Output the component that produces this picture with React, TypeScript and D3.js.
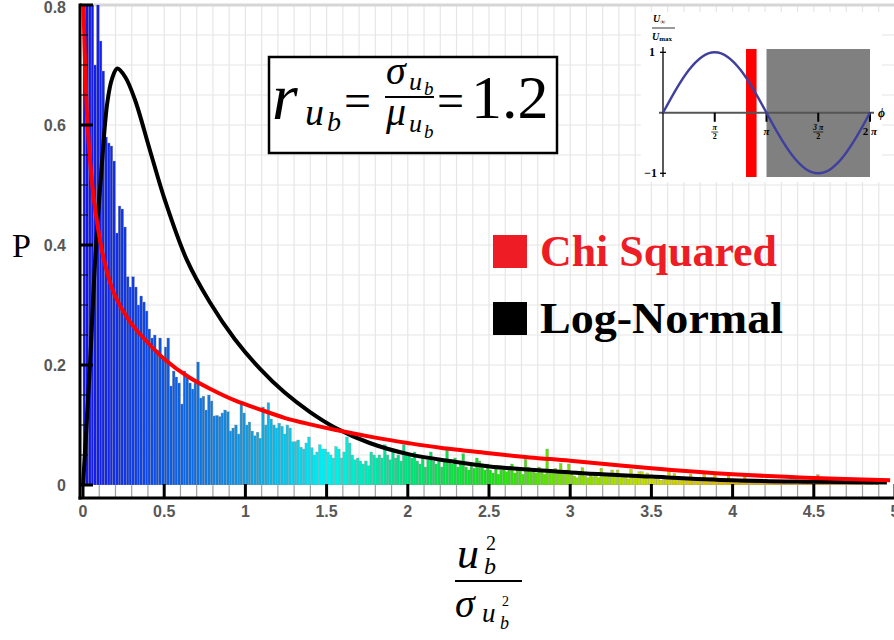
import React from "react";
import * as d3 from "d3";

// ---------- DATA ----------
const binWidth = 1 / 60;
// histogram bin heights, in segments of 0.5 on the x axis (30 bins each)
const bins0to05 = [1.2, 1.0, 0.9, 0.85, 0.7, 0.82, 0.74, 0.69, 0.58, 0.57, 0.565, 0.54, 0.42, 0.465, 0.46, 0.43, 0.347, 0.33, 0.347, 0.33, 0.3, 0.315, 0.305, 0.29, 0.26, 0.245, 0.25, 0.225, 0.245, 0.21];
const bins05to10 = [0.23, 0.245, 0.165, 0.19, 0.18, 0.17, 0.135, 0.19, 0.18, 0.17, 0.16, 0.17, 0.205, 0.145, 0.148, 0.125, 0.15, 0.14, 0.115, 0.116, 0.114, 0.12, 0.125, 0.122, 0.09, 0.095, 0.1, 0.085, 0.135, 0.12];
const bins10to15 = [0.1, 0.105, 0.09, 0.082, 0.088, 0.078, 0.13, 0.1, 0.137, 0.11, 0.1, 0.095, 0.103, 0.098, 0.085, 0.1, 0.095, 0.072, 0.072, 0.075, 0.063, 0.06, 0.07, 0.08, 0.062, 0.05, 0.055, 0.067, 0.06, 0.06];
const bins15to20 = [0.055, 0.05, 0.045, 0.064, 0.06, 0.045, 0.055, 0.08, 0.07, 0.05, 0.042, 0.045, 0.04, 0.035, 0.04, 0.032, 0.055, 0.05, 0.045, 0.05, 0.045, 0.067, 0.05, 0.042, 0.055, 0.045, 0.05, 0.04, 0.067, 0.05];
const bins20to25 = [0.05, 0.045, 0.055, 0.04, 0.035, 0.045, 0.03, 0.042, 0.055, 0.04, 0.035, 0.045, 0.03, 0.04, 0.058, 0.04, 0.035, 0.045, 0.03, 0.038, 0.052, 0.03, 0.025, 0.035, 0.028, 0.045, 0.04, 0.03, 0.025, 0.035];
const bins25to30 = [0.025, 0.02, 0.03, 0.018, 0.025, 0.03, 0.022, 0.028, 0.035, 0.02, 0.03, 0.025, 0.018, 0.043, 0.03, 0.022, 0.025, 0.02, 0.03, 0.025, 0.018, 0.06, 0.025, 0.02, 0.028, 0.022, 0.036, 0.02, 0.025, 0.035];
const bins30to35 = [0.02, 0.015, 0.012, 0.018, 0.029, 0.015, 0.012, 0.018, 0.014, 0.016, 0.012, 0.028, 0.016, 0.014, 0.018, 0.025, 0.02, 0.025, 0.012, 0.014, 0.015, 0.01, 0.026, 0.014, 0.012, 0.022, 0.022, 0.018, 0.02, 0.015];
const bins35to40 = [0.01, 0.014, 0.012, 0.008, 0.015, 0.012, 0.023, 0.01, 0.019, 0.012, 0.008, 0.011, 0.009, 0.012, 0.018, 0.01, 0.008, 0.012, 0.009, 0.018, 0.01, 0.008, 0.012, 0.018, 0.009, 0.007, 0.011, 0.008, 0.015, 0.009];
const bins40to45 = [0.006, 0.004, 0.007, 0.005, 0.014, 0.006, 0.004, 0.007, 0.005, 0.006, 0.004, 0.006, 0.01, 0.005, 0.004, 0.006, 0.003, 0.005, 0.004, 0.006, 0.003, 0.004, 0.005, 0.003, 0.004, 0.006, 0.003, 0.004, 0.003, 0.005];
const bins45to49 = [0.004, 0.017, 0.003, 0.004, 0.002, 0.003, 0.002, 0.004, 0.002, 0.003, 0.002, 0.003, 0.008, 0.002, 0.003, 0.002, 0.002, 0.003, 0.001, 0.002, 0.002, 0.004, 0.001, 0.002];

// fitted curves
const chiX = [0, 0.026, 0.05, 0.08, 0.125, 0.19, 0.29, 0.39, 0.5, 0.65, 0.8, 0.935, 1.1, 1.24, 1.4, 1.55, 1.8, 2.0, 2.2, 2.5, 2.75, 3.0, 3.5, 4.0, 4.5, 4.97];
const chiY = [0.83, 0.61, 0.52, 0.45, 0.38, 0.32, 0.272, 0.24, 0.21, 0.18, 0.158, 0.141, 0.125, 0.112, 0.101, 0.092, 0.079, 0.07, 0.062, 0.053, 0.046, 0.0405, 0.028, 0.018, 0.0117, 0.008];
const lnX = [0, 0.02, 0.043, 0.074, 0.115, 0.15, 0.18, 0.211, 0.26, 0.32, 0.412, 0.504, 0.638, 0.78, 0.935, 1.089, 1.242, 1.396, 1.55, 1.765, 2.01, 2.257, 2.503, 3.0, 3.5, 4.0, 4.5, 4.95];
const lnY = [0, 0.09, 0.2, 0.37, 0.53, 0.638, 0.678, 0.694, 0.68, 0.642, 0.558, 0.475, 0.376, 0.305, 0.243, 0.194, 0.154, 0.122, 0.096, 0.07, 0.051, 0.04, 0.031, 0.021, 0.014, 0.008, 0.0055, 0.004];

const xTicks = [0, 0.5, 1, 1.5, 2, 2.5, 3, 3.5, 4, 4.5, 5];
const xTickLabels = ["0", "0.5", "1", "1.5", "2", "2.5", "3", "3.5", "4", "4.5", "5"];
const yTicks = [0, 0.2, 0.4, 0.6, 0.8];
const yTickLabels = ["0", "0.2", "0.4", "0.6", "0.8"];

const colorStops = [0, 0.5, 1.0, 1.5, 2.0, 2.5, 3.0, 3.5, 4.0, 4.5, 5.0];
const colorValues = ["#1414e8", "#0b55e6", "#1597dc", "#00f0f4", "#00e07c", "#14e014", "#7ee000", "#cce000", "#e0b400", "#d08a30", "#b87040"];

const legendNames = ["Chi Squared", "Log-Normal"];
const legendColors = ["#ee1c25", "#000000"];
const legendLengths = [237, 243];

// inset
const insetPhase = [0, 0.3927, 0.7854, 1.1781, 1.5708, 1.9635, 2.3562, 2.7489, 3.1416, 3.5343, 3.927, 4.3197, 4.7124, 5.1051, 5.4978, 5.8905, 6.2832];
const insetValue = [0, 0.383, 0.707, 0.924, 1, 0.924, 0.707, 0.383, 0, -0.383, -0.707, -0.924, -1, -0.924, -0.707, -0.383, 0];
const insetBandFrom = [2.52, 3.1416];
const insetBandTo = [2.84, 6.2832];
const insetBandColor = ["#ff0000", "#808080"];

export default function App() {
  const W = 894, H = 640;
  const x = d3.scaleLinear().domain([0, 5]).range([83, 895]);
  const y = d3.scaleLinear().domain([0, 0.8]).range([485, 5]);
  const color = d3.scaleLinear<string>().domain(colorStops).range(colorValues).interpolate(d3.interpolateRgb);

  const bins = [
    ...bins0to05, ...bins05to10, ...bins10to15, ...bins15to20, ...bins20to25,
    ...bins25to30, ...bins30to35, ...bins35to40, ...bins40to45, ...bins45to49,
  ];
  const bw = x(binWidth) - x(0);

  const line = d3.line<[number, number]>().x(d => x(d[0])).y(d => y(d[1])).curve(d3.curveCatmullRom.alpha(0.5));
  const chiPath = line(chiX.map((v, i) => [v, chiY[i]]) as [number, number][]) || "";
  const lnPath = line(lnX.map((v, i) => [v, lnY[i]]) as [number, number][]) || "";

  const vGrid = d3.range(1, 50).map(k => k / 10);
  const hGrid = d3.range(1, 16).map(k => k * 0.05);
  const yMinor = d3.range(1, 16).map(k => k * 0.05).filter(v => Math.abs(v / 0.2 - Math.round(v / 0.2)) > 1e-6);
  const xMinor = d3.range(1, 50).map(k => k / 10).filter(v => Math.abs(v * 2 - Math.round(v * 2)) > 1e-6);

  // inset scales
  const px = d3.scaleLinear().domain([0, 2 * Math.PI]).range([663, 870]);
  const py = d3.scaleLinear().domain([-1, 1]).range([173.3, 52.3]);
  const sineLine = d3.line<[number, number]>().x(d => px(d[0])).y(d => py(d[1])).curve(d3.curveNatural);
  const sinePath = sineLine(insetPhase.map((p, i) => [p, insetValue[i]]) as [number, number][]) || "";

  const serif = "'Liberation Serif', 'Times New Roman', serif";
  const sans = "'Liberation Sans', Arial, sans-serif";

  return (
    <svg width={W} height={H} style={{ position: "absolute", left: 0, top: 0, background: "#fff" }} xmlns="http://www.w3.org/2000/svg">
      <defs>
        <clipPath id="plotClip">
          <rect x={80} y={5} width={W - 80} height={480} />
        </clipPath>
      </defs>
      <rect x={0} y={0} width={W} height={H} fill="#fff" />

      {/* grid */}
      {vGrid.map(v => (
        <line key={"vg" + v} x1={x(v)} x2={x(v)} y1={5} y2={485} stroke="#e6e6e6" strokeWidth={1.2} />
      ))}
      {hGrid.map(v => (
        <line key={"hg" + v} x1={80} x2={W} y1={y(v)} y2={y(v)} stroke="#e6e6e6" strokeWidth={1.2} />
      ))}
      <line x1={80} x2={W} y1={5} y2={5} stroke="#d6d6d6" strokeWidth={3} />

      {/* bars */}
      <g clipPath="url(#plotClip)">
        {bins.map((v, i) => (
          <rect key={"b" + i} x={x(i * binWidth)} y={y(v)} width={bw} height={y(0) - y(v)}
            fill={color((i + 0.5) * binWidth)} stroke="#9a9a9a" strokeWidth={0.35} />
        ))}
        <path d={lnPath} fill="none" stroke="#000" strokeWidth={4} strokeLinejoin="round" />
        <path d={chiPath} fill="none" stroke="#ff0000" strokeWidth={4} strokeLinejoin="round" />
      </g>

      {/* x axis */}
      {xMinor.map(v => (
        <line key={"xm" + v} x1={x(v)} x2={x(v)} y1={485} y2={498} stroke="#a0a0a0" strokeWidth={1.2} />
      ))}
      {xTicks.map(v => (
        <line key={"xt" + v} x1={x(v)} x2={x(v)} y1={484} y2={498} stroke="#000" strokeWidth={3} />
      ))}
      <line x1={78.5} x2={W} y1={498} y2={498} stroke="#000" strokeWidth={3} />
      {xTicks.map((v, i) => (
        <text key={"xl" + v} x={x(v)} y={517} textAnchor="middle" fontFamily={sans} fontWeight="bold" fontSize={16} fill="#575757">{xTickLabels[i]}</text>
      ))}

      {/* y axis */}
      <line x1={80} x2={80} y1={3.5} y2={499.5} stroke="#000" strokeWidth={3} />
      {yMinor.map(v => (
        <line key={"ym" + v} x1={80} x2={88} y1={y(v)} y2={y(v)} stroke="#000" strokeWidth={1} />
      ))}
      {yTicks.map(v => (
        <line key={"yt" + v} x1={80} x2={93} y1={y(v)} y2={y(v)} stroke="#000" strokeWidth={3} />
      ))}
      {yTicks.map((v, i) => (
        <text key={"yl" + v} x={66} y={Math.max(y(v) + 6, 13)} textAnchor="end" fontFamily={sans} fontWeight="bold" fontSize={16} fill="#575757">{yTickLabels[i]}</text>
      ))}

      {/* axis titles */}
      <text x={12} y={257} fontFamily={serif} fontSize={34} fill="#000">P</text>
      <g fontFamily={serif} fill="#000">
        <text x={457} y={568} fontSize={44} fontStyle="italic">u</text>
        <text x={486} y={550} fontSize={20}>2</text>
        <text x={484} y={574} fontSize={24} fontStyle="italic">b</text>
        <line x1={455} x2={522} y1={581} y2={581} stroke="#000" strokeWidth={2} />
        <text x={455} y={617} fontSize={40} fontStyle="italic">σ</text>
        <text x={482} y={622} fontSize={27} fontStyle="italic">u</text>
        <text x={500} y={629} fontSize={18} fontStyle="italic">b</text>
        <text x={502} y={606} fontSize={14}>2</text>
      </g>

      {/* formula box */}
      <rect x={269} y={57} width={288} height={96} fill="#fff" stroke="#000" strokeWidth={2.5} />
      <g fontFamily={serif} fill="#000">
        <text x={272} y={119} fontSize={66} fontStyle="italic">r</text>
        <text x={305} y={125} fontSize={38} fontStyle="italic">u</text>
        <text x={327} y={131} fontSize={28} fontStyle="italic">b</text>
        <text x={344} y={117} fontSize={48}>=</text>
        <text x={386} y={84} fontSize={40} fontStyle="italic">σ</text>
        <text x={409} y={90} fontSize={26} fontStyle="italic">u</text>
        <text x={424} y={95} fontSize={19} fontStyle="italic">b</text>
        <line x1={385} x2={434} y1={97} y2={97} stroke="#000" strokeWidth={1.8} />
        <text x={386} y={125} fontSize={40} fontStyle="italic">μ</text>
        <text x={409} y={132} fontSize={26} fontStyle="italic">u</text>
        <text x={424} y={138} fontSize={19} fontStyle="italic">b</text>
        <text x={437} y={117} fontSize={48}>=</text>
        <text x={471} y={118} fontSize={62}>1.2</text>
      </g>

      {/* legend */}
      {legendNames.map((n, i) => (
        <g key={n}>
          <rect x={493} y={235 + i * 67} width={34} height={33} fill={legendColors[i]} />
          <text x={540} y={266 + i * 67} fontFamily={serif} fontWeight="bold" fontSize={44} fill={legendColors[i]}
            textLength={legendLengths[i]} lengthAdjust="spacingAndGlyphs">{n}</text>
        </g>
      ))}

      {/* inset */}
      <rect x={641} y={12} width={241} height={170} fill="#fff" />
      {insetBandFrom.map((f, i) => (
        <rect key={"band" + i} x={px(f)} y={49} width={px(insetBandTo[i]) - px(f)} height={128} fill={insetBandColor[i]} />
      ))}
      <line x1={659} x2={874} y1={py(0)} y2={py(0)} stroke="#555" strokeWidth={2} />
      <line x1={663} x2={663} y1={47} y2={177} stroke="#000" strokeWidth={1.3} />
      {[Math.PI / 2, Math.PI, 1.5 * Math.PI, 2 * Math.PI].map(p => (
        <line key={"it" + p} x1={px(p)} x2={px(p)} y1={py(0)} y2={py(0) + 9} stroke="#000" strokeWidth={2} />
      ))}
      {[1, -1].map(v => (
        <line key={"iy" + v} x1={660} x2={666} y1={py(v)} y2={py(v)} stroke="#000" strokeWidth={1.3} />
      ))}
      <path d={sinePath} fill="none" stroke="#3f3f9e" strokeWidth={2.4} />
      <g fontFamily={serif} fill="#000" fontWeight="bold">
        <text x={655} y={56} fontSize={12} textAnchor="end">1</text>
        <text x={657} y={177} fontSize={12} textAnchor="end">−1</text>
        <text x={px(Math.PI / 2)} y={130} fontSize={8} textAnchor="middle" fontStyle="italic">π</text>
        <line x1={px(Math.PI / 2) - 3.5} x2={px(Math.PI / 2) + 3.5} y1={132} y2={132} stroke="#000" strokeWidth={0.7} />
        <text x={px(Math.PI / 2)} y={139} fontSize={8} textAnchor="middle">2</text>
        <text x={px(Math.PI)} y={135} fontSize={11} textAnchor="middle" fontStyle="italic">π</text>
        <text x={px(1.5 * Math.PI)} y={130} fontSize={8} textAnchor="middle" fontStyle="italic">3 π</text>
        <line x1={px(1.5 * Math.PI) - 5} x2={px(1.5 * Math.PI) + 5} y1={132} y2={132} stroke="#000" strokeWidth={0.7} />
        <text x={px(1.5 * Math.PI)} y={139} fontSize={8} textAnchor="middle">2</text>
        <text x={px(2 * Math.PI)} y={135} fontSize={11} textAnchor="middle">2 <tspan fontStyle="italic">π</tspan></text>
        <text x={878} y={117} fontSize={12} fontStyle="italic">ϕ</text>
        <text x={653} y={22} fontSize={10} fontStyle="italic">U<tspan fontSize={7} dy={2}>∞</tspan></text>
        <line x1={652} x2={675} y1={28} y2={28} stroke="#000" strokeWidth={0.8} />
        <text x={652} y={40} fontSize={10} fontStyle="italic">U<tspan fontSize={7} dy={1} fontStyle="normal">max</tspan></text>
      </g>
    </svg>
  );
}
